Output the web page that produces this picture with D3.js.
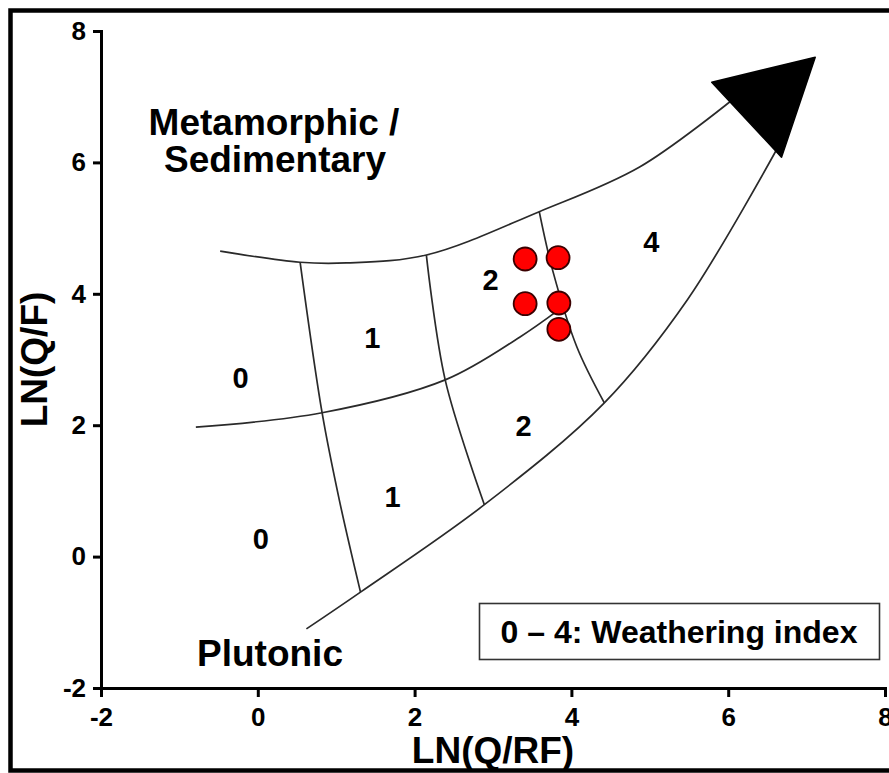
<!DOCTYPE html>
<html>
<head>
<meta charset="utf-8">
<script src="https://cdn.jsdelivr.net/npm/d3@7"></script>
<style>
  body { margin: 0; background: #fff; }
  svg { display: block; }
  text { font-family: "Liberation Sans", Arial, sans-serif; font-weight: bold; fill: #000; }
</style>
</head>
<body>
<svg id="chart" width="889" height="773"></svg>
<script>
// Axis ticks
const xTicks = [-2, 0, 2, 4, 6, 8];
const yTicks = [-2, 0, 2, 4, 6, 8];

// Field boundaries, as [LN(Q/RF), LN(Q/F)] pairs
const upperBoundary  = [[-0.48, 4.65], [0.54, 4.48], [1.13, 4.47], [2.15, 4.59], [3.59, 5.25], [4.87, 5.93], [6.05, 6.95]];
const middleBoundary = [[-0.79, 1.97], [0.82, 2.19], [2.39, 2.69], [3.34, 3.34], [3.82, 3.74]];
const lowerBoundary  = [[0.62, -1.10], [1.31, -0.54], [2.89, 0.79], [4.42, 2.34], [5.48, 3.91], [6.62, 6.20]];
// Weathering-index divisions
const indexLine01 = [[0.54, 4.48], [0.82, 2.19], [1.04, 0.86], [1.31, -0.54]];
const indexLine12 = [[2.15, 4.59], [2.39, 2.69], [2.89, 0.79]];
const indexLine24 = [[3.59, 5.25], [3.76, 4.36], [4.07, 3.19], [4.42, 2.34]];
// Arrowhead at the end of the weathering trend
const arrowHead = [[5.79, 7.22], [7.11, 7.60], [6.68, 6.08]];

// Samples
const sampleX = [3.41, 3.83, 3.41, 3.84, 3.84];
const sampleY = [4.53, 4.55, 3.85, 3.86, 3.46];

// Weathering-index labels inside the fields
const zoneText = ["0", "1", "2", "4", "2", "1", "0"];
const zoneX = [-0.22, 1.46, 2.97, 5.02, 3.39, 1.72, 0.04];
const zoneY = [2.73, 3.34, 4.21, 4.79, 2.00, 0.91, 0.28];

const svg = d3.select("#chart");

// Frame
svg.append("rect")
  .attr("x", 10.5).attr("y", 10.5)
  .attr("width", 900).attr("height", 760)
  .attr("fill", "none").attr("stroke", "#000").attr("stroke-width", 4.5);

const x = d3.scaleLinear().domain([-2, 8]).range([101, 885]);
const y = d3.scaleLinear().domain([-2, 8]).range([688, 31]);

const line = d3.line()
  .x(d => x(d[0])).y(d => y(d[1]))
  .curve(d3.curveCatmullRom.alpha(0.5));

const g = svg.append("g");

[upperBoundary, middleBoundary, lowerBoundary, indexLine01, indexLine12, indexLine24].forEach(pts => {
  g.append("path")
    .attr("d", line(pts))
    .attr("fill", "none")
    .attr("stroke", "#2a2a2a")
    .attr("stroke-width", 1.7);
});

g.append("path")
  .attr("d", d3.line().x(d => x(d[0])).y(d => y(d[1]))(arrowHead) + "Z")
  .attr("fill", "#000").attr("stroke", "#000").attr("stroke-width", 1.5)
  .attr("stroke-linejoin", "round");

// Sample points
g.selectAll("circle.sample")
  .data(sampleX.map((v, i) => [v, sampleY[i]]))
  .join("circle")
  .attr("class", "sample")
  .attr("cx", d => x(d[0])).attr("cy", d => y(d[1]))
  .attr("r", 11.5)
  .attr("fill", "#ff0000")
  .attr("stroke", "#3a0000").attr("stroke-width", 1.8);

// Field index labels
g.selectAll("text.zone")
  .data(zoneText.map((t, i) => ({ t, x: zoneX[i], y: zoneY[i] })))
  .join("text")
  .attr("class", "zone")
  .attr("x", d => x(d.x)).attr("y", d => y(d.y))
  .attr("dy", "0.36em")
  .attr("text-anchor", "middle")
  .style("font-size", "29px")
  .text(d => d.t);

// Provenance field names
g.append("text").attr("x", 274).attr("y", 135).attr("text-anchor", "middle")
  .style("font-size", "37px").text("Metamorphic /");
g.append("text").attr("x", 275).attr("y", 172).attr("text-anchor", "middle")
  .style("font-size", "37px").text("Sedimentary");
g.append("text").attr("x", 270).attr("y", 666).attr("text-anchor", "middle")
  .style("font-size", "37px").text("Plutonic");

// Legend note
g.append("rect")
  .attr("x", 479.5).attr("y", 603.5).attr("width", 400).attr("height", 56)
  .attr("fill", "#fff").attr("stroke", "#333").attr("stroke-width", 1.6);
g.append("text").attr("x", 679).attr("y", 643).attr("text-anchor", "middle")
  .style("font-size", "32px").text("0 \u2013 4: Weathering index");

// Axes
const xAxis = svg.append("g")
  .attr("transform", `translate(0,${y(-2)})`)
  .call(d3.axisBottom(x).tickValues(xTicks).tickSize(9).tickSizeOuter(9).tickPadding(11).tickFormat(d3.format("d")));
const yAxis = svg.append("g")
  .attr("transform", `translate(${x(-2)},0)`)
  .call(d3.axisLeft(y).tickValues(yTicks).tickSize(8).tickSizeOuter(8).tickPadding(7).tickFormat(d3.format("d")));

[xAxis, yAxis].forEach(a => {
  a.select(".domain").attr("stroke", "#000").attr("stroke-width", 3);
  a.selectAll(".tick line").attr("stroke", "#000").attr("stroke-width", 3);
  a.selectAll(".tick text")
    .style("font-size", "26px")
    .style("font-family", "'Liberation Sans', Arial, sans-serif")
    .style("font-weight", "bold")
    .attr("fill", "#000");
});
// use a hyphen-minus for negative labels
svg.selectAll(".tick text").text(function () { return this.textContent.replace("\u2212", "-"); });

// Axis titles
svg.append("text")
  .attr("x", (x(-2) + x(8)) / 2).attr("y", 763)
  .attr("text-anchor", "middle")
  .style("font-size", "37px").text("LN(Q/RF)");
svg.append("text")
  .attr("transform", `translate(47,${(y(-2) + y(8)) / 2}) rotate(-90)`)
  .attr("text-anchor", "middle")
  .style("font-size", "37px").text("LN(Q/F)");
</script>
</body>
</html>
